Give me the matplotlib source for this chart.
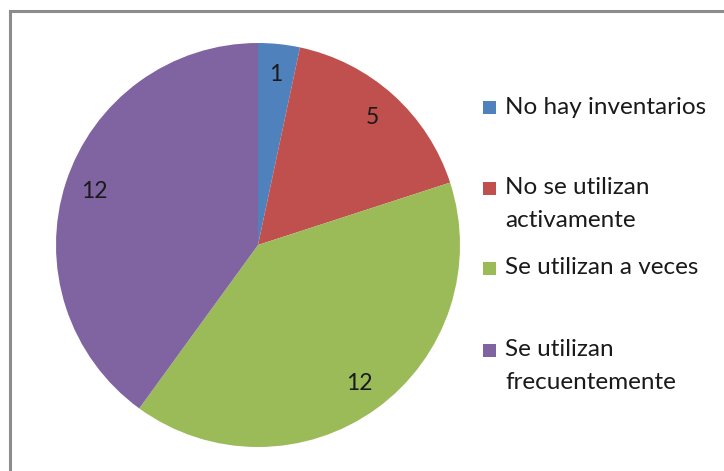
import matplotlib.pyplot as plt
from matplotlib.patches import Rectangle
from matplotlib.lines import Line2D

# Survey answers about inventory usage
categories = ["No hay inventarios", "No se utilizan\nactivamente",
              "Se utilizan a veces", "Se utilizan\nfrecuentemente"]
counts = [1, 5, 12, 12]
colors = ["#4F81BD", "#C0504D", "#9BBB59", "#8064A2"]

W, H = 724, 471
fig = plt.figure(figsize=(W / 100, H / 100), dpi=100)
plt.rcParams['font.family'] = ['Lato', 'DejaVu Sans']

# Outer chart frame (runs off the right and bottom edges)
frame_col = "#8c8c8c"
fig.add_artist(Line2D([10 / W, 1.01], [1 - 11 / H, 1 - 11 / H],
                      transform=fig.transFigure, color=frame_col, lw=2.2))
fig.add_artist(Line2D([10 / W, 10 / W], [1 - 11 / H, -0.01],
                      transform=fig.transFigure, color=frame_col, lw=2.2))

# Pie centred at (258, 245) px with 202 px radius
cx, cy, r = 258, 245, 202
ax = fig.add_axes([(cx - r) / W, (H - cy - r) / H, 2 * r / W, 2 * r / H])
total = sum(counts)
wedges, texts, autotexts = ax.pie(
    counts, colors=colors, startangle=90, counterclock=False,
    autopct=lambda p: f"{round(p * total / 100):d}", pctdistance=0.85,
    wedgeprops=dict(linewidth=0), textprops=dict(fontsize=16.5, color="#1a1a1a"))
ax.set_xlim(-1, 1)
ax.set_ylim(-1, 1)
ax.axis("off")

# Legend entries laid out by hand
fs = 17.5
legend_y = [107, 204, 268, 366]
for lab, col, y in zip(categories, colors, legend_y):
    n = lab.count("\n") + 1
    top = y - (n - 1) * 16
    fig.add_artist(Rectangle((483 / W, 1 - (top + 6.5) / H), 13 / W, 13 / H,
                             transform=fig.transFigure, color=col, lw=0))
    fig.text(505 / W, 1 - y / H, lab, fontsize=fs, color="#1a1a1a",
             va="center", ha="left", linespacing=1.75)

fig.savefig("out.png", dpi=100)
